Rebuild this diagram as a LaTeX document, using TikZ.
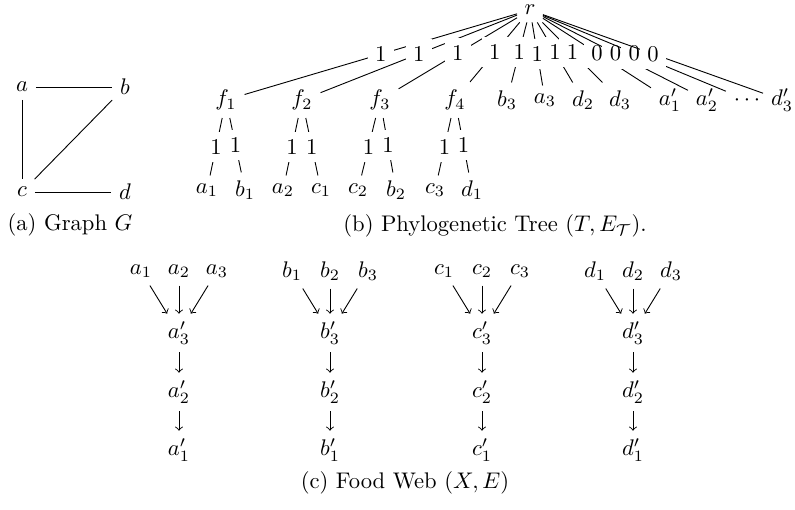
\documentclass[tikz,border=0pt]{standalone}
\begin{document}
\begin{tikzpicture}[x=0.4425pt,y=-0.4425pt,
  lbl/.style={fill=white},
  arr/.style={->}]
\useasboundingbox (0,0) rectangle (795,510);
% (a) Graph G
\node (ga) at (22,87) {$a$};
\node (gb) at (125,87) {$b$};
\node (gc) at (22,192) {$c$};
\node (gd) at (125,192) {$d$};
\draw (ga) -- (gb);
\draw (ga) -- (gc);
\draw (gb) -- (gc);
\draw (gc) -- (gd);
\node (capa) at (70,225) {(a) Graph $G$};
% (b) Phylogenetic tree
\node[inner sep=1pt,outer sep=2.33pt] (r) at (530,10) {$r$};
\foreach \n/\x/\t/\l in {tf1/226/f_1/1, tf2/302/f_2/1, tf3/380/f_3/1, tf4/455/f_4/1,
  tb3/507/b_3/1, ta3/545/a_3/1, td2/583/d_2/1, td3/620/d_3/1,
  tap1/670/a'_1/0, tap2/707/a'_2/0, tdots/747/\cdots/0, tdp3/782/d'_3/0}{
  \node (\n) at (\x,100) {$\t$};
  \draw (r) -- node[lbl]{\l} (\n);
}
\foreach \p/\n/\x/\t in {tf1/ta1/207/a_1, tf1/tb1/245/b_1, tf2/ta2/283/a_2, tf2/tc1/321/c_1,
  tf3/tc2/358/c_2, tf3/tb2/396/b_2, tf4/tc3/435/c_3, tf4/td1/472/d_1}{
  \node (\n) at (\x,190) {$\t$};
  \draw (\p) -- node[lbl]{1} (\n);
}
\node (capb) at (495,226) {(b) Phylogenetic Tree $(T, E_{\mathcal{T}})$.};
% (c) Food web
\foreach \c/\cx in {a/179, b/330, c/482, d/633}{
  \node (w\c1) at (\cx-38,271) {$\c_1$};
  \node (w\c2) at (\cx,271) {$\c_2$};
  \node (w\c3) at (\cx+38,271) {$\c_3$};
  \node (w\c p3) at (\cx,333) {$\c'_3$};
  \node (w\c p2) at (\cx,392) {$\c'_2$};
  \node (w\c p1) at (\cx,450) {$\c'_1$};
  \draw[arr] (w\c1) -- (w\c p3);
  \draw[arr] (w\c2) -- (w\c p3);
  \draw[arr] (w\c3) -- (w\c p3);
  \draw[arr] (w\c p3) -- (w\c p2);
  \draw[arr] (w\c p2) -- (w\c p1);
}
\node (capc) at (405,483) {(c) Food Web $(X,E)$};
\end{tikzpicture}
\end{document}
